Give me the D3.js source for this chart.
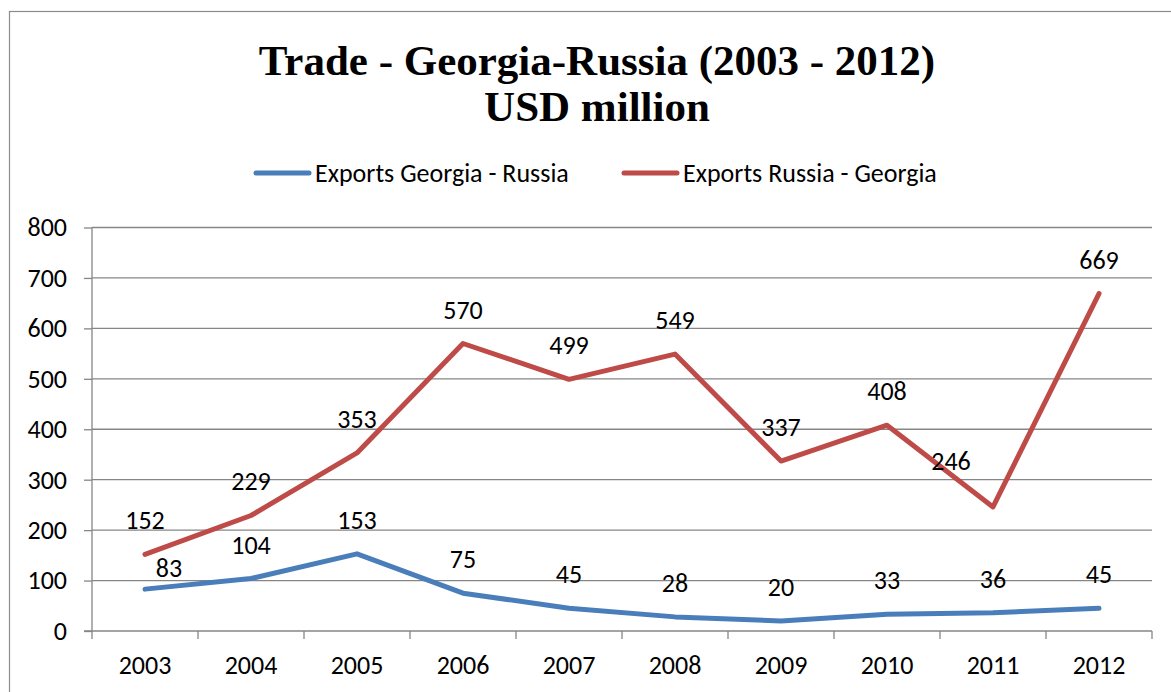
<!DOCTYPE html>
<html>
<head>
<meta charset="utf-8">
<script src="https://cdn.jsdelivr.net/npm/d3@7"></script>
<style>
  html, body { margin: 0; padding: 0; background: #fff; }
  svg { display: block; }
</style>
</head>
<body>
<svg id="chart" width="1171" height="692"></svg>
<script>
// Annual trade values, USD million
const years = ["2003", "2004", "2005", "2006", "2007", "2008", "2009", "2010", "2011", "2012"];
const exportsGeorgiaRussia = [83, 104, 153, 75, 45, 28, 20, 33, 36, 45];
const exportsRussiaGeorgia = [152, 229, 353, 570, 499, 549, 337, 408, 246, 669];
const yTicks = [0, 100, 200, 300, 400, 500, 600, 700, 800];
const seriesNames = ["Exports Georgia - Russia", "Exports Russia - Georgia"];

const W = 1171, H = 692;
const margin = { left: 92, right: 19, top: 227.5, bottom: 61 };
const plotW = W - margin.left - margin.right;
const plotH = H - margin.top - margin.bottom;

const sansFont = "Carlito, Calibri, 'Open Sans', sans-serif";
const serifFont = "'Liberation Serif', 'Times New Roman', serif";
const colors = ["#4A7EBB", "#BE4B48"];
const gridColor = "#868686";
const fs = 26;

const svg = d3.select("#chart");

// Chart frame
svg.append("rect")
  .attr("x", 9.5).attr("y", 11.5)
  .attr("width", W + 10).attr("height", H + 10)
  .attr("fill", "#fff").attr("stroke", "#8c8c8c").attr("stroke-width", 1.2);

const g = svg.append("g").attr("transform", `translate(${margin.left},${margin.top})`);

const x = d3.scaleBand().domain(years).range([0, plotW]);
const y = d3.scaleLinear().domain([0, 800]).range([plotH, 0]);
const cx = d => x(d) + x.bandwidth() / 2;

// Horizontal gridlines
g.append("g").selectAll("line").data(yTicks.filter(t => t > 0)).join("line")
  .attr("x1", 0).attr("x2", plotW)
  .attr("y1", d => y(d)).attr("y2", d => y(d))
  .attr("stroke", gridColor).attr("stroke-width", 1.3);

// Y axis
const yAxis = g.append("g")
  .call(d3.axisLeft(y).tickValues(yTicks).tickSize(8).tickPadding(17));
yAxis.select(".domain").remove();
yAxis.append("line").attr("x1", 0).attr("x2", 0).attr("y1", 0).attr("y2", plotH)
  .attr("stroke", gridColor).attr("stroke-width", 1.3);
yAxis.selectAll(".tick line").attr("stroke", gridColor).attr("stroke-width", 1.3);
yAxis.selectAll(".tick text")
  .attr("font-family", sansFont).attr("font-size", fs).attr("fill", "#000");

// X axis with ticks at band boundaries
const xAxis = g.append("g").attr("transform", `translate(0,${plotH})`);
xAxis.append("line").attr("x1", -8).attr("x2", plotW).attr("y1", 0).attr("y2", 0)
  .attr("stroke", gridColor).attr("stroke-width", 1.3);
const boundaries = years.map(d => x(d)).concat([plotW]);
xAxis.selectAll("line.bt").data(boundaries).join("line").attr("class", "bt")
  .attr("x1", d => d).attr("x2", d => d).attr("y1", 0).attr("y2", 8)
  .attr("stroke", gridColor).attr("stroke-width", 1.3);
xAxis.selectAll("text").data(years).join("text")
  .attr("x", d => cx(d)).attr("y", 42.5)
  .attr("text-anchor", "middle")
  .attr("font-family", sansFont).attr("font-size", fs).attr("fill", "#000")
  .text(d => d);

// Lines
const seriesData = [exportsGeorgiaRussia, exportsRussiaGeorgia];
const line = d3.line().x((d, i) => cx(years[i])).y(d => y(d));
seriesData.forEach((vals, s) => {
  g.append("path").datum(vals)
    .attr("d", line)
    .attr("fill", "none")
    .attr("stroke", colors[s]).attr("stroke-width", 5)
    .attr("stroke-linejoin", "round").attr("stroke-linecap", "round");
});

// Data labels, placed above each point; two are nudged clear of the other line
const nudges = { "0-0": [24, 13], "1-8": [-42, -12] };
seriesData.forEach((vals, s) => {
  g.append("g").selectAll("text").data(vals).join("text")
    .attr("x", (d, i) => cx(years[i]) + (nudges[`${s}-${i}`] || [0, 0])[0])
    .attr("y", (d, i) => y(d) - 25 + (nudges[`${s}-${i}`] || [0, 0])[1])
    .attr("text-anchor", "middle")
    .attr("font-family", sansFont).attr("font-size", fs).attr("fill", "#000")
    .text(d => d);
});

// Title
const title = svg.append("text")
  .attr("x", 597).attr("text-anchor", "middle")
  .attr("font-family", serifFont).attr("font-weight", "bold")
  .attr("font-size", 43).attr("fill", "#000");
title.append("tspan").attr("x", 597).attr("y", 75).text("Trade - Georgia-Russia (2003 - 2012)");
title.append("tspan").attr("x", 597).attr("y", 121).text("USD million");

// Legend
const legendItems = [{ x: 256, name: seriesNames[0], c: colors[0] }, { x: 624, name: seriesNames[1], c: colors[1] }];
const legend = svg.append("g");
legendItems.forEach(it => {
  legend.append("line")
    .attr("x1", it.x).attr("x2", it.x + 53).attr("y1", 173).attr("y2", 173)
    .attr("stroke", it.c).attr("stroke-width", 5).attr("stroke-linecap", "round");
  legend.append("text")
    .attr("x", it.x + 59).attr("y", 182)
    .attr("font-family", sansFont).attr("font-size", fs).attr("fill", "#000")
    .text(it.name);
});
</script>
</body>
</html>
